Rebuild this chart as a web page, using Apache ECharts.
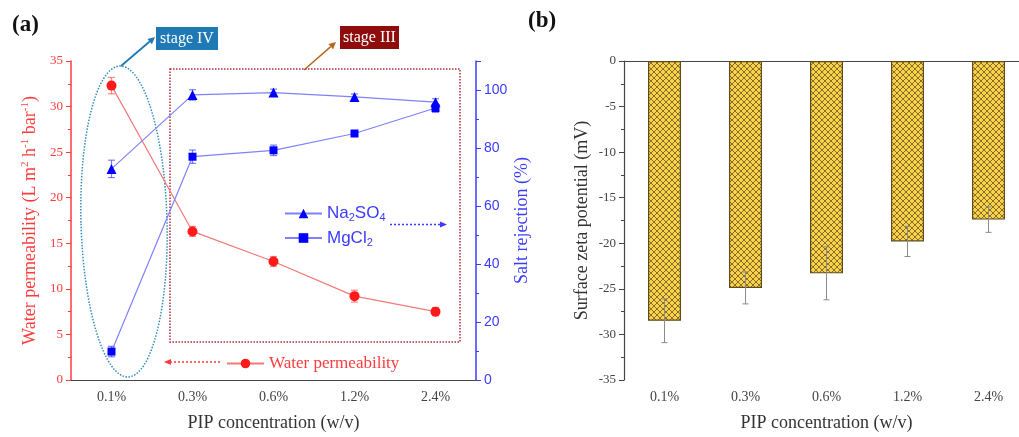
<!DOCTYPE html>
<html>
<head>
<meta charset="utf-8">
<script src="https://cdn.jsdelivr.net/npm/echarts@6/dist/echarts.min.js"></script>
<style>html,body{margin:0;padding:0;background:#fff;overflow:hidden;width:1019px;height:437px}#c{width:1040px;height:437px}</style>
</head>
<body>
<div id="c"></div>
<script>
// ---- data ----
const categories = ['0.1%', '0.3%', '0.6%', '1.2%', '2.4%'];
const waterPerm = [32.3, 16.3, 13.0, 9.2, 7.5];
const waterPermErr = [0.9, 0.55, 0.55, 0.65, 0.45];
const na2so4 = [72.8, 98.3, 99.1, 97.6, 95.8];
const na2so4Err = [3.0, 1.8, 1.2, 1.0, 1.2];
const mgcl2 = [9.8, 77.0, 79.2, 85.0, 93.8];
const mgcl2Err = [1.8, 2.3, 1.8, 1.0, 1.5];
const zeta = [-28.5, -24.9, -23.3, -19.8, -17.4];
const zetaErr = [2.4, 1.75, 2.9, 1.65, 1.4];
const permTicks = [0, 35, 5];
const rejTicks = [0, 110, 20];
const zetaTicks = [-35, 0, 5];

const SERIF = '"Liberation Serif", "Times New Roman", serif';
const SANS = '"Liberation Sans", Arial, sans-serif';
const RED = '#ff3b3b';
const BLUE = '#3b3bff';

// crosshatch pattern
const pc = document.createElement('canvas');
pc.width = 6; pc.height = 6;
const g = pc.getContext('2d');
g.fillStyle = '#f8d24c'; g.fillRect(0, 0, 6, 6);
g.strokeStyle = '#7d6220'; g.lineWidth = 0.9;
g.beginPath();
g.moveTo(-1, -1); g.lineTo(7, 7);
g.moveTo(-1, 7); g.lineTo(7, -1);
g.stroke();

function errRender(color, cap, lw) {
  return function (params, api) {
    const i = api.value(0), v = api.value(1), e = api.value(2);
    const t = api.coord([i, v + e]);
    const b = api.coord([i, v - e]);
    const st = { stroke: color, lineWidth: lw };
    return {
      type: 'group',
      children: [
        { type: 'line', shape: { x1: t[0], y1: t[1], x2: b[0], y2: b[1] }, style: st },
        { type: 'line', shape: { x1: t[0] - cap, y1: t[1], x2: t[0] + cap, y2: t[1] }, style: st },
        { type: 'line', shape: { x1: b[0] - cap, y1: b[1], x2: b[0] + cap, y2: b[1] }, style: st }
      ]
    };
  };
}
function errData(vals, errs) { return vals.map((v, i) => [i, v, errs[i]]); }

function arrow(x1, y1, x2, y2, color, dash, lw, hl, hw) {
  const dx = x2 - x1, dy = y2 - y1, L = Math.hypot(dx, dy);
  const ux = dx / L, uy = dy / L;
  const bx = x2 - ux * hl, by = y2 - uy * hl;
  return {
    type: 'group', silent: true,
    children: [
      { type: 'line', shape: { x1: x1, y1: y1, x2: bx, y2: by }, style: { stroke: color, lineWidth: lw, lineDash: dash } },
      { type: 'polygon', shape: { points: [[x2, y2], [bx - uy * hw, by + ux * hw], [bx + uy * hw, by - ux * hw]] }, style: { fill: color } }
    ]
  };
}

const chart = echarts.init(document.getElementById('c'), null, { renderer: 'canvas' });

const catAxisCommon = {
  type: 'category', data: categories, boundaryGap: true,
  axisLine: { lineStyle: { color: '#444', width: 1.2 } },
  axisTick: { alignWithLabel: true, length: 5, lineStyle: { color: '#444' } },
  axisLabel: { fontFamily: SERIF, fontSize: 14, color: '#444', margin: 10 },
  nameLocation: 'middle', nameGap: 34,
  nameTextStyle: { fontFamily: SERIF, fontSize: 18, color: '#333' }
};
const topLineAxis = {
  type: 'category', data: categories, position: 'top',
  axisLine: { lineStyle: { color: '#444', width: 1.2 } },
  axisTick: { show: false }, axisLabel: { show: false }
};

const option = {
  animation: false,
  backgroundColor: '#fff',
  grid: [
    { left: 71, top: 61, width: 405, height: 323 },
    { left: 624, top: 61, width: 405, height: 322 }
  ],
  xAxis: [
    Object.assign({}, catAxisCommon, { gridIndex: 0, name: 'PIP concentration (w/v)' }),
    Object.assign({}, topLineAxis, { gridIndex: 0 }),
    Object.assign({}, catAxisCommon, { gridIndex: 1, name: 'PIP concentration (w/v)' }),
    Object.assign({}, topLineAxis, { gridIndex: 1 })
  ],
  yAxis: [
    {
      type: 'value', gridIndex: 0, position: 'left',
      min: permTicks[0], max: permTicks[1], interval: permTicks[2],
      splitLine: { show: false },
      axisLine: { show: true, lineStyle: { color: RED, width: 1.5 } },
      axisTick: { show: true, length: 5, lineStyle: { color: RED } },
      minorTick: { show: true, splitNumber: 2, length: 3, lineStyle: { color: RED } },
      axisLabel: { fontFamily: SERIF, fontSize: 13, color: RED, margin: 8 },
      name: 'Water permeability (L m{p|2} h{p|-1} bar{p|-1})',
      nameLocation: 'middle', nameGap: 31, nameRotate: 90,
      nameTextStyle: {
        fontFamily: SERIF, fontSize: 18, color: RED, lineHeight: 20,
        rich: { p: { fontFamily: SERIF, fontSize: 11, color: RED, verticalAlign: 'top', lineHeight: 12 } }
      }
    },
    {
      type: 'value', gridIndex: 0, position: 'right',
      min: rejTicks[0], max: rejTicks[1], interval: rejTicks[2],
      splitLine: { show: false },
      axisLine: { show: true, lineStyle: { color: BLUE, width: 1.5 } },
      axisTick: { show: true, length: 5, lineStyle: { color: BLUE } },
      minorTick: { show: true, splitNumber: 2, length: 3, lineStyle: { color: BLUE } },
      axisLabel: { fontFamily: SANS, fontSize: 14, color: BLUE, margin: 8, showMaxLabel: false },
      name: 'Salt rejection (%)',
      nameLocation: 'middle', nameGap: 37, nameRotate: 90,
      nameTextStyle: { fontFamily: SERIF, fontSize: 18, color: BLUE }
    },
    {
      type: 'value', gridIndex: 1, position: 'left',
      min: zetaTicks[0], max: zetaTicks[1], interval: zetaTicks[2],
      splitLine: { show: false },
      axisLine: { show: true, lineStyle: { color: '#444', width: 1.2 } },
      axisTick: { show: true, length: 5, lineStyle: { color: '#444' } },
      minorTick: { show: true, splitNumber: 2, length: 3, lineStyle: { color: '#444' } },
      axisLabel: { fontFamily: SERIF, fontSize: 13, color: '#444', margin: 8 },
      name: 'Surface zeta potential (mV)',
      nameLocation: 'middle', nameGap: 33, nameRotate: 90,
      nameTextStyle: { fontFamily: SERIF, fontSize: 18, color: '#333' }
    }
  ],
  legend: [
    {
      data: ['Na2SO4', 'MgCl2'], orient: 'vertical', left: 279, top: 200,
      itemWidth: 37, itemHeight: 12, itemGap: 6,
      formatter: function (n) {
        return n === 'Na2SO4' ? '{n|Na}{s|2}{n|SO}{s|4}' : '{n|MgCl}{s|2}';
      },
      textStyle: {
        color: BLUE,
        rich: {
          n: { fontFamily: SANS, fontSize: 17, color: BLUE, lineHeight: 20 },
          s: { fontFamily: SANS, fontSize: 11, color: BLUE, verticalAlign: 'bottom', lineHeight: 8 }
        }
      }
    },
    {
      data: ['Water permeability'], left: 221, top: 350,
      itemWidth: 37, itemHeight: 12,
      textStyle: { fontFamily: SERIF, fontSize: 17, color: RED }
    }
  ],
  series: [
    {
      name: 'Water permeability', type: 'line', xAxisIndex: 0, yAxisIndex: 0,
      data: waterPerm, symbol: 'circle', symbolSize: 10,
      itemStyle: { color: '#ff1a1a' }, lineStyle: { color: '#f27a7a', width: 1.2 }, z: 5
    },
    {
      name: 'Na2SO4', type: 'line', xAxisIndex: 0, yAxisIndex: 1,
      data: na2so4, symbol: 'triangle', symbolSize: 10,
      itemStyle: { color: '#0000ff' }, lineStyle: { color: '#8080ff', width: 1.2 }, z: 5
    },
    {
      name: 'MgCl2', type: 'line', xAxisIndex: 0, yAxisIndex: 1,
      data: mgcl2, symbol: 'rect', symbolSize: 8,
      itemStyle: { color: '#0000ff' }, lineStyle: { color: '#8080ff', width: 1.2 }, z: 5
    },
    {
      type: 'custom', xAxisIndex: 0, yAxisIndex: 0, z: 4,
      renderItem: errRender('rgba(255,60,60,0.6)', 3.5, 1.2), data: errData(waterPerm, waterPermErr)
    },
    {
      type: 'custom', xAxisIndex: 0, yAxisIndex: 1, z: 4,
      renderItem: errRender('rgba(40,40,255,0.6)', 3.5, 1.2), data: errData(na2so4, na2so4Err)
    },
    {
      type: 'custom', xAxisIndex: 0, yAxisIndex: 1, z: 4,
      renderItem: errRender('rgba(40,40,255,0.6)', 3.5, 1.2), data: errData(mgcl2, mgcl2Err)
    },
    {
      name: 'zeta', type: 'bar', xAxisIndex: 2, yAxisIndex: 2,
      data: zeta, barWidth: 33,
      itemStyle: { color: { image: pc, repeat: 'repeat' }, borderColor: '#5e4a1a', borderWidth: 1.2 }
    },
    {
      type: 'custom', xAxisIndex: 2, yAxisIndex: 2, z: 10,
      renderItem: errRender('#8a8a8a', 3, 1), data: errData(zeta, zetaErr)
    }
  ],
  graphic: [
    { type: 'text', left: 12, top: 14, style: { text: '(a)', font: 'bold 23px ' + SERIF, fill: '#111' } },
    { type: 'text', left: 528, top: 10, style: { text: '(b)', font: 'bold 23px ' + SERIF, fill: '#111' } },
    // stage III rectangle
    { type: 'rect', silent: true, shape: { x: 170, y: 69, width: 290, height: 273 },
      style: { fill: 'none', stroke: '#b22a3a', lineWidth: 1.5, lineDash: [1.5, 1.5] }, z: 1 },
    // stage IV ellipse
    { type: 'ellipse', silent: true, x: 124, y: 221.5, rotation: 0.026,
      shape: { cx: 0, cy: 0, rx: 43, ry: 155.5 },
      style: { fill: 'none', stroke: '#2f8fb8', lineWidth: 1.5, lineDash: [1.5, 1.5] }, z: 1 },
    // labels
    { type: 'rect', silent: true, shape: { x: 156, y: 27, width: 62, height: 23 }, style: { fill: '#1f79b5' } },
    { type: 'text', silent: true, x: 187, y: 38.5, style: { text: 'stage IV', font: '16px ' + SERIF, fill: '#fff', align: 'center', verticalAlign: 'middle' } },
    { type: 'rect', silent: true, shape: { x: 340, y: 26, width: 59, height: 23 }, style: { fill: '#8e0c0c' } },
    { type: 'text', silent: true, x: 369.5, y: 37.5, style: { text: 'stage III', font: '16px ' + SERIF, fill: '#fff', align: 'center', verticalAlign: 'middle' } },
    arrow(121, 66, 155, 37, '#1f79b5', null, 1.8, 7, 3.5),
    arrow(304, 70, 336, 42, '#b8651e', null, 1.5, 7, 3.5),
    arrow(390, 224.5, 447, 224.5, '#3b3bff', [2, 2], 1.5, 7, 3),
    arrow(220, 362, 164, 362, '#ff3b3b', [2, 2], 1.5, 7, 3)
  ]
};
chart.setOption(option);
</script>
</body>
</html>
